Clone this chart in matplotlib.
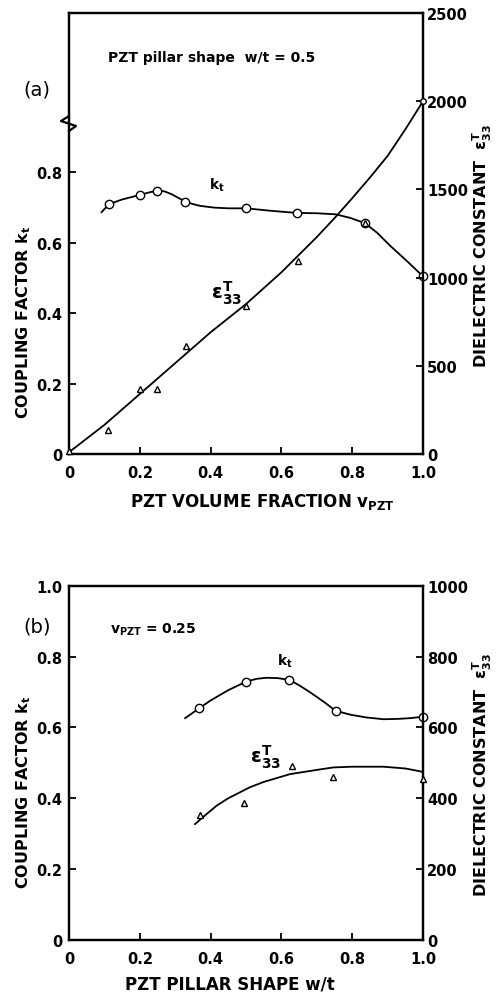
import matplotlib
matplotlib.use("Agg")
import matplotlib.pyplot as plt

plt.rcParams['font.family'] = ['DejaVu Sans']
plt.rcParams['font.weight'] = 'bold'
plt.rcParams['mathtext.default'] = 'bf'

# (a) k_t and eps vs PZT volume fraction
a_kt_x = [0.113, 0.20, 0.25, 0.329, 0.50, 0.643, 0.836, 1.00]
a_kt_y = [0.709, 0.735, 0.747, 0.716, 0.697, 0.684, 0.655, 0.504]
a_ktc_x = [0.092, 0.113, 0.15, 0.20, 0.23, 0.25, 0.27, 0.29, 0.31, 0.329, 0.35, 0.37,
           0.41, 0.45, 0.50, 0.57, 0.643, 0.70, 0.753, 0.794, 0.836, 0.87, 0.907,
           0.954, 1.00]
a_ktc_y = [0.686, 0.709, 0.722, 0.735, 0.743, 0.747, 0.745, 0.737, 0.726, 0.716,
           0.709, 0.704, 0.699, 0.697, 0.697, 0.690, 0.684, 0.683, 0.680, 0.670,
           0.655, 0.628, 0.591, 0.548, 0.504]
a_eps_x = [0.0, 0.109, 0.202, 0.25, 0.331, 0.50, 0.648, 0.836]
a_eps_y = [19, 138, 368, 368, 614, 838, 1096, 1310]
a_eps_end = (1.0, 2000)
a_epsc_x = [0.0, 0.1, 0.2, 0.3, 0.4, 0.5, 0.6, 0.7, 0.75, 0.8, 0.85, 0.9, 0.95, 1.0]
a_epsc_y = [10, 165, 340, 515, 690, 850, 1030, 1230, 1337, 1450, 1567, 1690, 1840, 2000]

# (b) k_t and eps vs pillar shape w/t
b_kt_x = [0.368, 0.50, 0.622, 0.753, 1.00]
b_kt_y = [0.654, 0.729, 0.734, 0.647, 0.630]
b_ktc_x = [0.328, 0.368, 0.40, 0.45, 0.50, 0.53, 0.558, 0.59, 0.622, 0.65, 0.681,
           0.72, 0.753, 0.794, 0.84, 0.888, 0.93, 0.963, 1.00]
b_ktc_y = [0.626, 0.654, 0.676, 0.705, 0.729, 0.737, 0.740, 0.739, 0.734, 0.719,
           0.699, 0.672, 0.647, 0.636, 0.628, 0.623, 0.624, 0.626, 0.630]
b_eps_x = [0.37, 0.495, 0.631, 0.745, 1.00]
b_eps_y = [353, 386, 490, 459, 454]
b_epsc_x = [0.356, 0.38, 0.417, 0.45, 0.511, 0.55, 0.624, 0.70, 0.747, 0.80, 0.888,
            0.95, 0.992, 1.00]
b_epsc_y = [327, 348, 379, 400, 431, 446, 468, 480, 487, 489, 489, 484, 476, 474]

xticks = [0, 0.2, 0.4, 0.6, 0.8, 1.0]
xticklabels = ['0', '0.2', '0.4', '0.6', '0.8', '1.0']

fig = plt.figure(figsize=(5.01, 9.95), dpi=100)
axa = fig.add_axes([0.1377, 0.5427, 0.7066, 0.4432])
axb = fig.add_axes([0.1377, 0.0543, 0.7066, 0.3561])
axa2 = axa.twinx()
axb2 = axb.twinx()


def style(ax, ax2):
    ax.set_xlim(0, 1)
    ax.set_xticks(xticks)
    ax.set_xticklabels(xticklabels)
    for a in (ax, ax2):
        for s in a.spines.values():
            s.set_linewidth(1.6)
        a.tick_params(direction='in', length=5, width=1.3, labelsize=10.5)
    ax.tick_params(axis='x', pad=8)
    ax.tick_params(axis='y', pad=5)
    ax2.tick_params(axis='y', pad=3)


style(axa, axa2)
style(axb, axb2)

lw = 1.3
mk = dict(mfc='white', mec='black', mew=1.0, ls='none', clip_on=False, zorder=5)

# panel (a)
axa.set_ylim(0, 1.251)
axa.set_yticks([0, 0.2, 0.4, 0.6, 0.8])
axa.set_yticklabels(['0', '0.2', '0.4', '0.6', '0.8'])
axa2.set_ylim(0, 2500)
axa2.set_yticks([0, 500, 1000, 1500, 2000, 2500])
axa.plot(a_ktc_x, a_ktc_y, color='black', lw=lw)
axa.plot(a_kt_x, a_kt_y, marker='o', ms=6, **mk)
axa2.plot(a_epsc_x, a_epsc_y, color='black', lw=lw)
axa2.plot(a_eps_x, a_eps_y, marker='^', ms=5, **mk)
axa2.plot([a_eps_end[0]], [a_eps_end[1]], marker='o', ms=4, **mk)

# axis break mark on left spine
axa.plot([0, -0.0226, 0.0198, 0], [0.7664, 0.7551, 0.7438, 0.7324],
         transform=axa.transAxes, color='black', lw=1.6, clip_on=False)

# panel (b)
axb.set_ylim(0, 1.0)
axb.set_yticks([0, 0.2, 0.4, 0.6, 0.8, 1.0])
axb.set_yticklabels(['0', '0.2', '0.4', '0.6', '0.8', '1.0'])
axb2.set_ylim(0, 1000)
axb2.set_yticks([0, 200, 400, 600, 800, 1000])
axb.plot(b_ktc_x, b_ktc_y, color='black', lw=lw)
axb.plot(b_kt_x, b_kt_y, marker='o', ms=6, **mk)
axb2.plot(b_epsc_x, b_epsc_y, color='black', lw=lw)
axb2.plot(b_eps_x, b_eps_y, marker='^', ms=5, **mk)

# texts
eps_lbl = r'$\varepsilon^{T}_{33}$'
fig.text(0.048, 0.6764, r'COUPLING FACTOR k$_t$', rotation=90, ha='center', va='center', fontsize=11.5)
fig.text(0.962, 0.7528, 'DIELECTRIC CONSTANT  ' + eps_lbl, rotation=90, ha='center', va='center', fontsize=11.5)
fig.text(0.048, 0.204, r'COUPLING FACTOR k$_t$', rotation=90, ha='center', va='center', fontsize=11.5)
fig.text(0.962, 0.2211, 'DIELECTRIC CONSTANT  ' + eps_lbl, rotation=90, ha='center', va='center', fontsize=11.5)
fig.text(0.523, 0.4955, r'PZT VOLUME FRACTION v$_{PZT}$', ha='center', va='center', fontsize=12)
fig.text(0.459, 0.0101, 'PZT PILLAR SHAPE w/t', ha='center', va='center', fontsize=12)

fig.text(0.0739, 0.9095, '(a)', ha='center', va='center', fontsize=14, fontweight='normal')
fig.text(0.0739, 0.3698, '(b)', ha='center', va='center', fontsize=14, fontweight='normal')
fig.text(0.2156, 0.9417, 'PZT pillar shape  w/t = 0.5', ha='left', va='center', fontsize=10)
fig.text(0.2196, 0.3668, r'v$_{PZT}$ = 0.25', ha='left', va='center', fontsize=10)

fig.text(0.4325, 0.8141, r'k$_t$', ha='center', va='center', fontsize=10)
fig.text(0.4525, 0.7055, eps_lbl, ha='center', va='center', fontsize=14)
fig.text(0.569, 0.3357, r'k$_t$', ha='center', va='center', fontsize=10)
fig.text(0.529, 0.2392, eps_lbl, ha='center', va='center', fontsize=14)

fig.savefig('out.png', dpi=100)
